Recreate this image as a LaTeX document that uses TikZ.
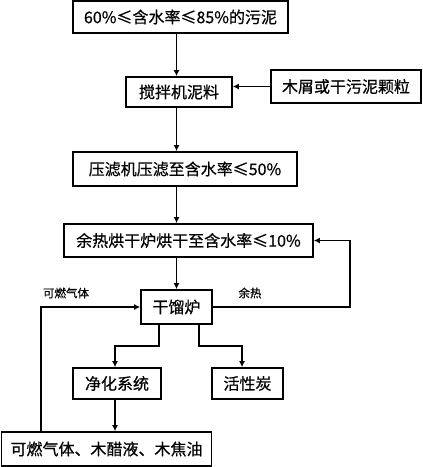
\documentclass[tikz,border=0pt]{standalone}
\usepackage{fontspec}
\setmainfont{Noto Sans CJK SC}[FakeBold=0.6]
\usetikzlibrary{arrows.meta}
\begin{document}
\begin{tikzpicture}[x=1pt,y=-1pt,
  box/.style={draw,line width=1.7pt,inner sep=0pt,font=\fontsize{16}{16}\selectfont},
  arr/.style={-{Latex[length=6pt,width=6pt]},line width=1.7pt},
  lbl/.style={font=\fontsize{11.5}{11.5}\selectfont}]
\useasboundingbox (0,0) rectangle (423,467);
\node[box,minimum width=215pt,minimum height=32pt] (b1) at (180.5,17) {60\%≤含水率≤85\%的污泥};
\node[box,minimum width=106pt,minimum height=30pt] (b2) at (179,92) {搅拌机泥料};
\node[box,minimum width=150pt,minimum height=33pt] (b3) at (346,86.5) {木屑或干污泥颗粒};
\node[box,minimum width=224pt,minimum height=34pt] (b4) at (185,169) {压滤机压滤至含水率≤50\%};
\node[box,minimum width=249pt,minimum height=33pt] (b5) at (188.5,240.5) {余热烘干炉烘干至含水率≤10\%};
\node[box,minimum width=71pt,minimum height=34pt] (b6) at (176.5,307) {干馏炉};
\node[box,minimum width=88pt,minimum height=31pt] (b7) at (117,383.5) {净化系统};
\node[box,minimum width=71pt,minimum height=31pt] (b8) at (247.5,383.5) {活性炭};
\node[box,minimum width=210pt,minimum height=34pt] (b9) at (106.5,449) {可燃气体、木醋液、木焦油};
\node[lbl] (l1) at (66,293) {可燃气体};
\node[lbl] (l2) at (250,293) {余热};
\draw[arr] (b1.south -| b6) -- (b2.north -| b6);
\draw[arr] (b3.west) -- (b3.west -| b2.east);
\draw[arr] (b2.south -| b6) -- (b4.north -| b6);
\draw[arr] (b4.south -| b6) -- (b5.north -| b6);
\draw[arr] (b5.south -| b6) -- (b6.north);
\draw[arr] (b6.east) -- ++(137,0) |- (b5.east);
\draw[arr] ([xshift=40pt]b9.north west) |- (b6.west);
\draw[arr] ([xshift=-17.5pt]b6.south) -- ++(0,21) -| ([xshift=-2pt]b7.north);
\draw[arr] ([xshift=22.5pt]b6.south) -- ++(0,21) -| ([xshift=-5.5pt]b8.north);
\draw[arr] ([xshift=-2pt]b7.south) -- ([xshift=-2pt]b7.south |- b9.north);
\end{tikzpicture}
\end{document}
